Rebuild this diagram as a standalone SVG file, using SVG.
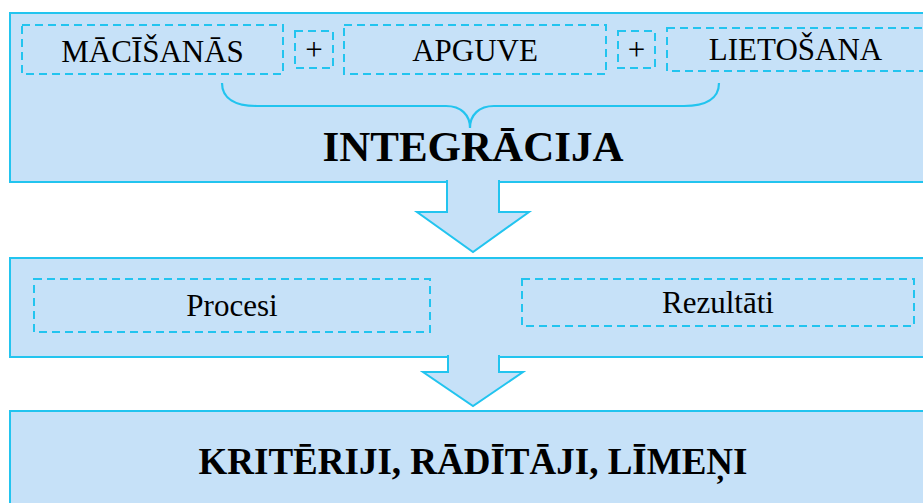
<svg xmlns="http://www.w3.org/2000/svg" width="923" height="503" viewBox="0 0 923 503">
  <style>
    .panel { fill: #c6e1f8; stroke: #22c4ef; stroke-width: 2; }
    .dash { fill: none; stroke: #22c4ef; stroke-width: 2; stroke-dasharray: 8 5; }
    .arrow { fill: #c6e1f8; stroke: #22c4ef; stroke-width: 2; stroke-linejoin: miter; }
    .brace { fill: none; stroke: #22c4ef; stroke-width: 2.2; }
    .t { font-family: "Liberation Serif", "Times New Roman", serif; fill: #000; text-anchor: middle; }
    .n { font-size: 31px; }
    .b { font-weight: bold; }
  </style>

  <!-- Top panel: three components joined into integration -->
  <g id="integration">
    <rect class="panel" x="10" y="13" width="930" height="169"/>
    <text class="t b" x="473" y="161" font-size="43">INTEGRĀCIJA</text>
  </g>
  <g id="macisanas">
    <rect class="dash" x="22" y="25" width="261" height="49"/>
    <text class="t n" x="152.5" y="62">MĀCĪŠANĀS</text>
  </g>
  <g id="plus-1">
    <rect class="dash" x="295" y="31" width="38" height="37"/>
    <text class="t n" x="314" y="60">+</text>
  </g>
  <g id="apguve">
    <rect class="dash" x="344" y="25" width="262" height="49"/>
    <text class="t n" x="475" y="61">APGUVE</text>
  </g>
  <g id="plus-2">
    <rect class="dash" x="618" y="31" width="37" height="37"/>
    <text class="t n" x="636.5" y="60">+</text>
  </g>
  <g id="lietosana">
    <rect class="dash" x="667" y="28" width="258" height="43"/>
    <text class="t n" x="795.5" y="60">LIETOŠANA</text>
  </g>

  <!-- Middle panel: processes and results -->
  <g id="process-results">
    <rect class="panel" x="10" y="258" width="930" height="99"/>
  </g>
  <g id="procesi">
    <rect class="dash" x="34" y="279" width="396" height="53"/>
    <text class="t n" x="232" y="316">Procesi</text>
  </g>
  <g id="rezultati">
    <rect class="dash" x="522" y="279" width="392" height="47"/>
    <text class="t n" x="718" y="313">Rezultāti</text>
  </g>

  <!-- Bottom panel: criteria -->
  <g id="criteria">
    <rect class="panel" x="10" y="411" width="930" height="110"/>
    <text class="t b" x="473" y="474" font-size="37">KRITĒRIJI, RĀDĪTĀJI, LĪMEŅI</text>
  </g>

  <!-- Connectors: brace and block arrows -->
  <g id="connectors">
    <path class="brace" d="M222,83 C222,99 236,106 257,106 L446,106 C461,106 470,115 470,128 C470,115 479,106 494,106 L684,106 C705,106 719,99 719,83"/>
    <path class="arrow" d="M447,180 V212 H417 L473,252 L529,212 H499 V180"/>
    <path class="arrow" d="M448,355 V372 H423 L473,406 L523,372 H499 V355"/>
  </g>
</svg>
